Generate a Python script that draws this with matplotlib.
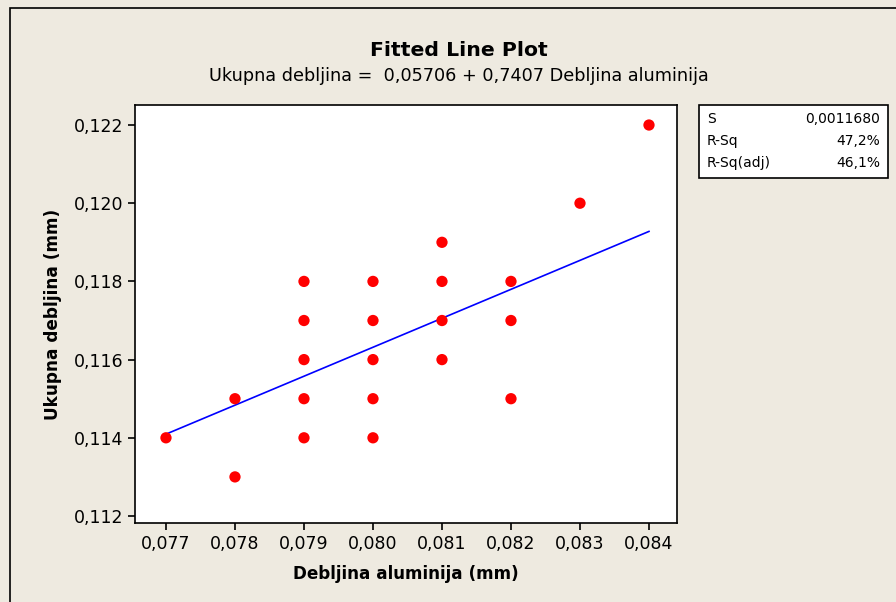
import matplotlib
matplotlib.use("Agg")
import matplotlib.pyplot as plt
import numpy as np
from matplotlib.ticker import FuncFormatter, MultipleLocator
from matplotlib.patches import Rectangle

# data
x_vals = [0.077,
          0.078, 0.078,
          0.079, 0.079, 0.079, 0.079, 0.079,
          0.080, 0.080, 0.080, 0.080, 0.080,
          0.081, 0.081, 0.081, 0.081,
          0.082, 0.082, 0.082,
          0.083,
          0.084]
y_vals = [0.114,
          0.115, 0.113,
          0.118, 0.117, 0.116, 0.115, 0.114,
          0.118, 0.117, 0.116, 0.115, 0.114,
          0.119, 0.118, 0.117, 0.116,
          0.118, 0.117, 0.115,
          0.120,
          0.122]
intercept = 0.05706
slope = 0.7407
stat_names = ["S", "R-Sq", "R-Sq(adj)"]
stat_values = ["0,0011680", "47,2%", "46,1%"]

bg = "#EEEAE0"
plt.rcParams['font.family'] = ['DejaVu Sans']

fig = plt.figure(figsize=(8.96, 6.02), dpi=100, facecolor=bg)
ax = fig.add_axes([135 / 896, 1 - 523 / 602, 542 / 896, 418 / 602])
ax.set_facecolor("white")

# outer frame (only top/left edges visible)
fig.patches.append(Rectangle((10 / 896, -0.1), 1.2, 1 - 8 / 602 + 0.1,
                             transform=fig.transFigure, fill=False,
                             edgecolor="black", linewidth=1.2))

xfit = np.array([min(x_vals), max(x_vals)])
ax.plot(xfit, intercept + slope * xfit, color="#0000FF", linewidth=1.2, zorder=2)
ax.scatter(x_vals, y_vals, s=66, color="#FF0000", edgecolors="none", zorder=3)

ax.set_xlim(0.076551, 0.084406)
ax.set_ylim(0.111821, 0.122512)
ax.xaxis.set_major_locator(MultipleLocator(0.001))
ax.yaxis.set_major_locator(MultipleLocator(0.002))
comma = FuncFormatter(lambda v, p: f"{v:.3f}".replace(".", ","))
ax.xaxis.set_major_formatter(comma)
ax.yaxis.set_major_formatter(comma)
ax.tick_params(direction="out", length=5, width=1.2, labelsize=12.5, colors="black")
for sp in ax.spines.values():
    sp.set_linewidth(1.2)

ax.set_xlabel("Debljina aluminija (mm)", fontsize=12.1, fontweight="bold", labelpad=9)
ax.set_ylabel("Ukupna debljina (mm)", fontsize=12.2, fontweight="bold", labelpad=8)

fig.text(459 / 896, 1 - 50 / 602, "Fitted Line Plot", ha="center", va="center",
         fontsize=14.7, fontweight="bold")
fig.text(459 / 896, 1 - 76 / 602, "Ukupna debljina =  0,05706 + 0,7407 Debljina aluminija",
         ha="center", va="center", fontsize=12.7)

# stats box
bx0, by0, bx1, by1 = 699, 105, 888, 178
fig.patches.append(Rectangle((bx0 / 896, 1 - by1 / 602), (bx1 - bx0) / 896, (by1 - by0) / 602,
                             transform=fig.transFigure, facecolor="white",
                             edgecolor="black", linewidth=1.2))
for i, (n, v) in enumerate(zip(stat_names, stat_values)):
    yy = 1 - (119 + i * 22) / 602
    fig.text((bx0 + 8) / 896, yy, n, ha="left", va="center", fontsize=10)
    fig.text((bx1 - 8) / 896, yy, v, ha="right", va="center", fontsize=10)

fig.savefig("out.png", dpi=100, facecolor=bg)
